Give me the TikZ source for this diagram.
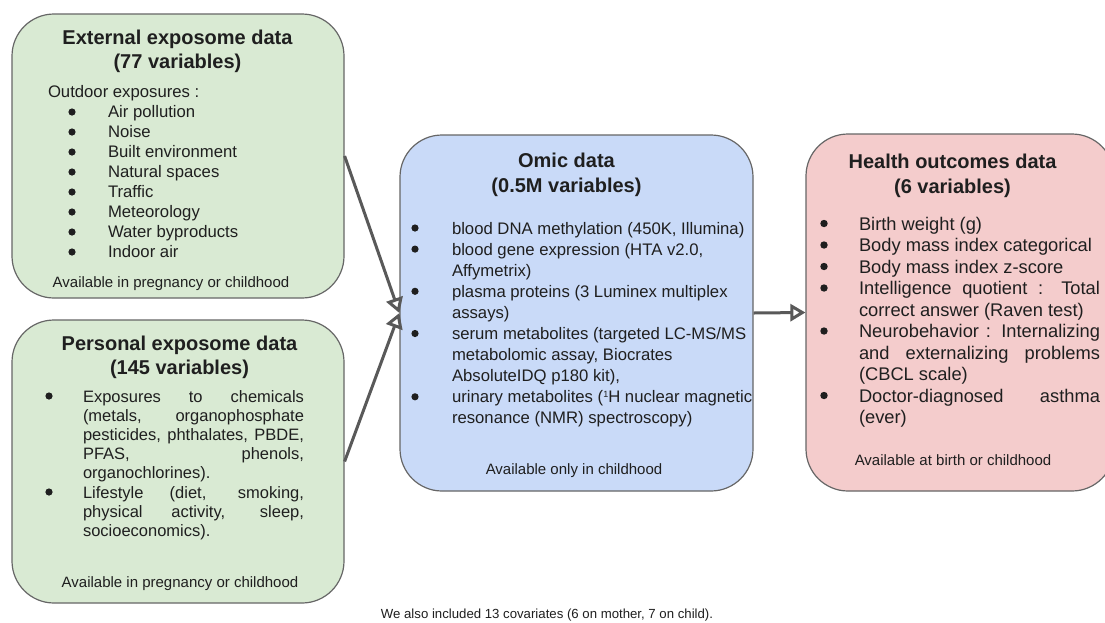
\documentclass[tikz,border=0pt]{standalone}
\usepackage{fontspec}
\setmainfont{Liberation Sans}
\usetikzlibrary{arrows.meta}
\definecolor{extgreen}{HTML}{D9EAD3}
\definecolor{omicblue}{HTML}{C9DAF8}
\definecolor{healthpink}{HTML}{F4CCCC}
\definecolor{edgegray}{HTML}{666666}
\definecolor{arrowgray}{HTML}{595959}
\definecolor{txtcol}{HTML}{1F1F1F}
\newcommand\mytitle[2]{\parbox[t]{320pt}{\centering\fontsize{20}{#2}\selectfont\bfseries #1}}
\newcommand\myfoot[1]{{\fontsize{15}{18}\selectfont #1}}
\newcommand\supone{\raisebox{5.5pt}{\fontsize{9}{9}\selectfont 1}}
\tikzset{
  databox/.style={rectangle, draw=edgegray, line width=1.2pt, rounded corners=42pt, inner sep=0pt},
  txtnode/.style={inner sep=0pt, outer sep=0pt, text=txtcol},
  bulletdot/.style={fill=txtcol},
  flow/.style={draw=arrowgray, line width=3pt, -{Triangle[open, length=15pt, width=17pt]}}
}
\begin{document}
\begin{tikzpicture}[x=1pt,y=-1pt]
\useasboundingbox (0,0) rectangle (1105,622);
\fill[white] (0,0) rectangle (1105,622);
\clip (0,0) rectangle (1105,622);

% boxes
\node[databox, fill=extgreen, minimum width=332pt, minimum height=284pt] (ext) at (178,156) {};
\node[databox, fill=extgreen, minimum width=332pt, minimum height=283pt] (pers) at (178,461.5) {};
\node[databox, fill=omicblue, minimum width=353pt, minimum height=356pt] (omic) at (576.5,313) {};
\node[databox, fill=healthpink, minimum width=308pt, minimum height=357pt] (health) at (960,312.5) {};

% external exposome
\node[txtnode, anchor=base] (ext-title) at (177.5,44) {\mytitle{External exposome data\\(77 variables)}{24}};
\node[txtnode, anchor=base west] (ext-body) at (48,97) {\parbox[t]{290pt}{\fontsize{16.7}{20}\selectfont\lineskiplimit=-100pt
Outdoor exposures :\\
\hspace*{60pt}Air pollution\\
\hspace*{60pt}Noise\\
\hspace*{60pt}Built environment\\
\hspace*{60pt}Natural spaces\\
\hspace*{60pt}Traffic\\
\hspace*{60pt}Meteorology\\
\hspace*{60pt}Water byproducts\\
\hspace*{60pt}Indoor air}};
\foreach \yb in {118,138,...,258} \fill[bulletdot] (72,\yb-6) circle[radius=3.6pt];
\node[txtnode, anchor=base] (ext-foot) at (171,287) {\myfoot{Available in pregnancy or childhood}};

% personal exposome
\node[txtnode, anchor=base] (pers-title) at (179.5,350) {\mytitle{Personal exposome data\\(145 variables)}{24.5}};
\node[txtnode, anchor=base west] (pers-body) at (46,402) {\parbox[t]{290pt}{\fontsize{16.5}{19.2}\selectfont\lineskiplimit=-100pt
\hspace*{37pt}\makebox[221pt][s]{Exposures to chemicals}\\
\hspace*{37pt}\makebox[221pt][s]{(metals, organophosphate}\\
\hspace*{37pt}\makebox[221pt][s]{pesticides, phthalates, PBDE,}\\
\hspace*{37pt}\makebox[221pt][s]{PFAS, phenols,}\\
\hspace*{37pt}organochlorines).\\
\hspace*{37pt}\makebox[221pt][s]{Lifestyle (diet, smoking,}\\
\hspace*{37pt}\makebox[221pt][s]{physical activity, sleep,}\\
\hspace*{37pt}socioeconomics).}};
\foreach \yb in {402,498} \fill[bulletdot] (49,\yb-6) circle[radius=3.6pt];
\node[txtnode, anchor=base] (pers-foot) at (180,587) {\myfoot{Available in pregnancy or childhood}};

% omic
\node[txtnode, anchor=base] (omic-title) at (566.5,167) {\mytitle{Omic data\\(0.5M variables)}{25}};
\node[txtnode, anchor=base west] (omic-body) at (412,234) {\parbox[t]{360pt}{\fontsize{16.7}{21.1}\selectfont\lineskiplimit=-100pt
\hspace*{40pt}blood DNA methylation (450K, Illumina)\\
\hspace*{40pt}blood gene expression (HTA v2.0,\\
\hspace*{40pt}Affymetrix)\\
\hspace*{40pt}plasma proteins (3 Luminex multiplex\\
\hspace*{40pt}assays)\\
\hspace*{40pt}serum metabolites (targeted LC-MS/MS\\
\hspace*{40pt}metabolomic assay, Biocrates\\
\hspace*{40pt}AbsoluteIDQ p180 kit),\\
\hspace*{40pt}urinary metabolites (\supone H nuclear magnetic\\
\hspace*{40pt}resonance (NMR) spectroscopy)}};
\foreach \k in {0,1,3,5,8} \fill[bulletdot] (415,234+21.1*\k-6) circle[radius=3.6pt];
\node[txtnode, anchor=base] (omic-foot) at (574,474) {\myfoot{Available only in childhood}};

% health
\node[txtnode, anchor=base] (health-title) at (952.5,168) {\mytitle{Health outcomes data\\(6 variables)}{25}};
\node[txtnode, anchor=base west] (health-body) at (821,230) {\parbox[t]{300pt}{\fontsize{18.3}{21.5}\selectfont\lineskiplimit=-100pt
\hspace*{38pt}Birth weight (g)\\
\hspace*{38pt}Body mass index categorical\\
\hspace*{38pt}Body mass index z-score\\
\hspace*{38pt}\makebox[241pt][s]{Intelligence quotient : Total}\\
\hspace*{38pt}correct answer (Raven test)\\
\hspace*{38pt}\makebox[241pt][s]{Neurobehavior : Internalizing}\\
\hspace*{38pt}\makebox[241pt][s]{and externalizing problems}\\
\hspace*{38pt}(CBCL scale)\\
\hspace*{38pt}\makebox[241pt][s]{Doctor-diagnosed asthma}\\
\hspace*{38pt}(ever)}};
\foreach \k in {0,1,2,3,5,8} \fill[bulletdot] (824,230+21.5*\k-6.5) circle[radius=3.7pt];
\node[txtnode, anchor=base] (health-foot) at (953,465) {\myfoot{Available at birth or childhood}};

% connectors
\draw[flow] (ext.east) -- (omic.west);
\draw[flow] (pers.east) -- (omic.west);
\draw[flow] (omic.east) -- (health.west);

% covariates note
\node[txtnode, anchor=base] (note) at (547,618.5) {\fontsize{13.2}{16}\selectfont We also included 13 covariates (6 on mother, 7 on child).};
\end{tikzpicture}
\end{document}
